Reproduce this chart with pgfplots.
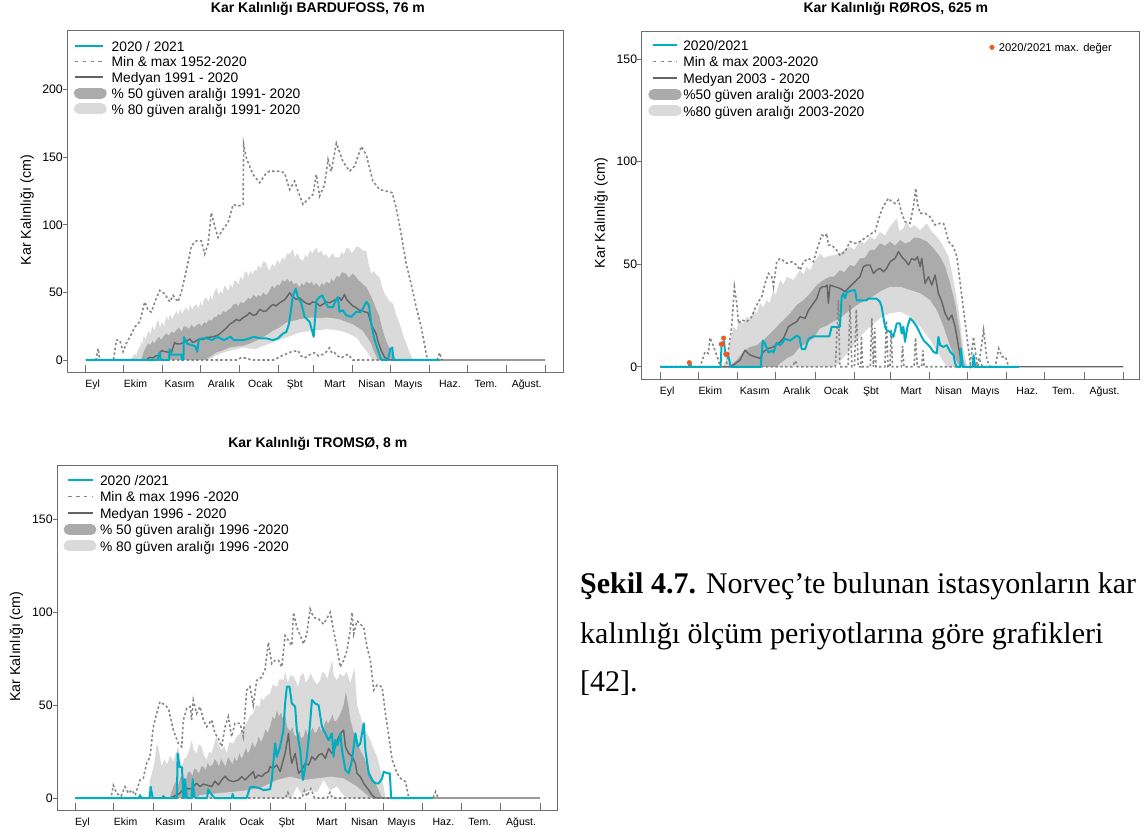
\documentclass[border=0pt]{standalone}
\usepackage{fontspec}
\setmainfont{Liberation Sans}
\newfontfamily\serif{Liberation Serif}
\usepackage{pgfplots}
\pgfplotsset{compat=1.18}
\definecolor{cyanl}{RGB}{0,174,196}
\definecolor{band80}{RGB}{218,218,218}
\definecolor{band50}{RGB}{171,171,171}
\definecolor{medc}{RGB}{100,100,100}
\definecolor{dotc}{RGB}{135,135,135}
\definecolor{framec}{RGB}{110,110,110}
\definecolor{maxc}{RGB}{240,90,30}
\pgfplotsset{
  snow/.style={
    scale only axis,
    axis line style={framec, line width=0.8pt},
    tick style={framec, line width=0.8pt},
    major tick length=4.3pt,
    tick pos=left,
    xtick={5.5,39.5,74.5,107.7,138.7,166,197.7,227.2,256.3,289.2,317.8,350.2},
    xticklabels={Eyl,Ekim,Kasım,Aralık,Ocak,Şbt,Mart,Nisan,Mayıs,Haz.,Tem.,Ağust.},
    xtick style={draw=none},
    extra x ticks={0,30,61,91,122,153,181,212,242,273,303,334,365},
    extra x tick labels={,,,,,,,,,,,,},
    extra x tick style={major tick length=7pt, xtick style={draw=framec}},
    xticklabel style={font=\fontsize{10.5}{10.5}\selectfont, inner sep=0pt, text height=8pt, text depth=2pt, anchor=north, yshift=-7pt},
    ytick style={xshift=-4.3pt},
    yticklabel style={font=\fontsize{12.3}{12.3}\selectfont, inner sep=0pt, xshift=-4.3pt},
    /pgf/number format/assume math mode=true,
    legend cell align=left,
    ylabel={Kar Kalınlığı (cm)},
    title style={anchor=center, font=\bfseries\fontsize{14}{14}\selectfont},
    ylabel style={anchor=center, font=\fontsize{14.3}{14.3}\selectfont},
  },
  b80/.style={fill=band80, draw=none, forget plot},
  b50/.style={fill=band50, draw=none, forget plot},
  bwh/.style={fill=white, draw=none, forget plot},
  dotl/.style={dotc, line width=1.6pt, dash pattern=on 2.4pt off 2.4pt, forget plot},
  medl/.style={medc, line width=1.4pt, line join=round, forget plot},
  cyl/.style={cyanl, line width=2pt, line join=round, forget plot},
}
\begin{document}
\begin{tikzpicture}
\path[use as bounding box] (0pt,0pt) rectangle (1144pt,830pt);

%================ BARDUFOSS
\begin{axis}[snow, at={(67.3pt,457.7pt)}, anchor=south west, width=496.3pt, height=341.6pt,
  xmin=-14.7, xmax=379.5, ymin=-9.1, ymax=243.7, ytick={0,50,100,150,200},
  title={Kar Kalınlığı BARDUFOSS, 76 m},
  title style={at={(axis description cs:0.505,1.046)}},
  ylabel style={at={(axis description cs:-0.0812,0.475)}},
  legend style={at={(axis description cs:0.0135,0.9722)}, anchor=north west, draw=none, fill=none, inner sep=0pt, outer sep=0pt, row sep=4.8pt, column sep=5pt, font=\fontsize{13.8}{14}\selectfont, nodes={inner sep=0pt, text height=11pt, text depth=0pt}}]
\addplot[b80] coordinates {(35,0) (37,2) (38.9,5) (40,3) (41.5,8) (42.9,9.3) (44,14) (45,11) (46,18) (47.5,15) (49.5,21.6) (51,19) (53,25) (54.5,22) (56,26.5) (57.5,30) (59,24) (60.5,28) (62,25) (64,32.6) (65.5,29) (67,34) (68.5,30) (70,33) (72,36.3) (73.5,33) (75,38) (76.5,34) (78,37) (79.9,38.7) (81.5,36) (83,41) (84.5,37) (86,40) (87.8,41.2) (89.5,38) (91,43) (92.5,40) (94,45) (95.8,46.1) (97.5,43) (99,48) (100.5,44) (102,50) (103.7,53.4) (105.5,48) (107,51) (108.5,49) (110,55) (111.6,53.4) (113,51) (115,56) (116.5,53) (118,59) (119.6,58.3) (121,56) (123,62) (124.5,59) (126,64) (127.5,65.7) (129,62) (131,66) (132.5,63) (134,67) (135.4,65.7) (137,70) (139,68) (141,73) (143.4,71.8) (145,67) (146,66.2) (148,71) (150,69) (152,74) (154,71.1) (156,76) (158,74) (160,79) (161.9,78.4) (164.5,82) (166,76) (168,79) (170,75) (172.5,73.5) (174.5,78) (176,76) (178,81) (180,79) (183,83.3) (185,79) (187,81) (189,77) (190.9,78.4) (193,75) (196,79) (198,76) (201.5,76) (203,80) (205,78) (207,83) (209.5,82) (211,79) (213,81) (215,84) (217.5,83.3) (220,81) (222.8,80.8) (224.5,72) (226.7,63.7) (228.5,66) (230,64) (232,62) (233.3,61.3) (235,55) (237.3,49) (239,47) (240,45) (242,43) (243.9,41.7) (246,35) (247.5,31) (249.2,27) (251,22) (252.5,17) (254.5,12.3) (257,6) (259.8,0)} --cycle;
\addplot[b50] coordinates {(44,0) (46,6) (47.5,9) (49.5,12.3) (51,11) (53,14) (54.5,12) (56,14.7) (58,17) (60,15) (62,18) (64,19.6) (66,18) (68,21) (70,20) (72,22) (74,24) (76,21) (78,25) (79.9,24.5) (82,23) (84,26) (86,24) (87.8,25.7) (90,27) (92,25) (94,28) (95.8,26.9) (98,30) (100,29) (102,32) (103.7,31.9) (105.5,34) (107,33) (109,36) (111.6,35.5) (113,37) (115,38) (117,41) (119.6,41.7) (121,40) (123,43) (125,42) (127.5,44.1) (129,46) (131,45) (133,48) (135.4,46.6) (137,48) (139,47) (141,50) (143.4,47.8) (146,51.5) (148,55) (150,53) (152,56) (154,55.1) (156,59) (158,58) (160,60) (161.9,57.6) (163.5,59) (165,56) (167,57) (169.8,53.9) (171.5,57) (173,55) (175,58) (177.8,56.4) (179.5,58) (181,55) (183,57) (185.7,53.9) (187.5,57) (189,55) (191,58) (193.6,56.4) (195,60) (197,58) (199,62) (201.5,61.3) (203.5,65) (206.9,63.7) (208.5,61) (210,62) (212,64) (214.8,61.3) (216.5,59) (218,58) (220,56) (222.8,53.9) (225,50) (228,44.1) (230.5,38) (233.3,31.9) (235,25) (237.3,17.2) (240,11) (242.6,6.9) (246.5,0)} --cycle;
\addplot[b80] coordinates {(95,0) (100,3) (103.7,5.6) (109,7) (114.3,9.3) (120,10) (125,10.5) (130,12) (135.4,14.2) (138,15.5) (143,18) (148.7,21.6) (154,24) (159.3,27.7) (165,29) (169.8,30.1) (175,31) (180.4,31.4) (185,31) (190.9,31.4) (196,31) (201.5,30.1) (206,28.5) (212,26.5) (216,24) (220,21.6) (224,16) (226.7,11.8) (229,6) (232,0)} --cycle;
\addplot[bwh] coordinates {(97,0) (103,3) (108,5) (114.3,6.9) (120,8) (125,9.3) (130,8.5) (135.4,8.1) (138,9.3) (143,11) (148.7,13) (154,15) (159.3,16.7) (165,18.5) (169.8,20.3) (175,21) (180.4,21.6) (185,22) (190.9,22.8) (196,22.5) (201.5,21.6) (206,20.5) (209.5,19.1) (213,17.5) (216.1,15.5) (219,11) (222.8,6.9) (226,2) (228,0)} --cycle;
\addplot[dotl] coordinates {(0,0) (8,0) (9.8,8.6) (11,0) (22,0) (24.3,14.7) (27,14.7) (29.6,6.1) (32,12) (35,17) (38.9,24.4) (42.9,28.4) (46.8,43) (49.5,36.8) (52.1,35.5) (54.8,43) (58.7,51.5) (62.7,49) (66.7,43) (69.3,47.8) (73.3,43) (75.9,50.3) (78.6,61.3) (81.2,72.3) (83.9,84.6) (87.8,88.2) (91.8,88.2) (94.4,78.4) (97.1,85.8) (99.7,109) (102.4,99) (105,90.7) (109,96.8) (113,101.7) (117,115) (120.9,113.9) (124.9,115) (125.4,159.3) (127.5,149.5) (132.8,137.3) (138.1,131.2) (143.4,138.5) (146,139.7) (154,139.7) (157.9,138.5) (161.9,126.2) (165.9,132.4) (168.5,125) (172.5,115.2) (176.4,118.9) (180.4,122.5) (183.1,137.3) (185.7,121.3) (189.7,129.9) (192.4,148.3) (195,139.7) (199,160.5) (204.2,147) (209.5,139.7) (213.5,143.4) (218.8,158) (222.8,151.8) (228,132.4) (233.3,126.2) (238.6,125) (243.4,123.8) (246.5,112.7) (250.5,93.1) (254.5,71) (258.4,56.4) (262.4,39.2) (266.4,24.5) (270.3,4.9) (271.6,0) (279,0) (281,5.4) (283,0)};
\addplot[dotl] coordinates {(0,0) (120,0) (123,1.5) (128,1.5) (131,0) (150,0) (153,2) (158,4) (163,6) (168.5,7) (171,3) (173.8,1.5) (178,4) (181.7,5.4) (185,3) (188.3,4.2) (191,6) (193.6,9) (195.5,5) (197.6,5.4) (200,3) (202.9,1.5) (205.5,3) (208.2,4.2) (212,0) (280,0)};
\addplot[medl] coordinates {(0,0) (48,0) (50.8,2) (53,1.5) (56,3.2) (58,3) (60,6.9) (64,6) (68,5.6) (70.6,13) (72,12) (74.6,11.8) (78,13) (80,14) (82.5,15.5) (85,13) (87.8,14.2) (91,16) (93,15) (95.8,16.7) (100,17) (103.7,17.9) (106,19) (109,21.6) (112,24) (114.3,26.5) (117,28) (119.6,30.1) (122,29) (125,31.4) (128,33) (130.2,35) (133,33) (135.4,33.8) (138.1,37.5) (141,36) (143.4,36.3) (146,39) (148.7,41.2) (151,40) (154,42.4) (157,44) (159.3,46.1) (161.9,49.8) (164,47) (167.2,44.9) (170,46) (172.5,43.6) (175,42) (177.8,41.2) (180,43) (183,42.4) (186,40) (188.3,41.2) (191,43) (193.6,42.4) (197,44) (201.5,46.1) (203,44) (205.5,48.5) (207,45) (209.5,42.4) (212,40) (214.8,38.7) (217,37) (220.1,36.3) (222,35.5) (224.1,35) (226.7,26.5) (228,24) (230.7,19.1) (232,14) (234.7,6.9) (237.3,2) (241.3,0) (365,0)};
\addplot[cyl] coordinates {(0,0) (57,0) (58.7,5.6) (59.5,0) (66,0) (66.7,8) (67.5,4) (76,4) (76.3,0) (77.5,0) (77.9,17) (80.5,12) (84.5,11) (87.2,9.8) (88.5,6) (89.8,14.7) (92.5,16) (96.4,16) (100.4,14.7) (104.4,17.2) (109.6,14.7) (114.9,17.2) (117.6,14.7) (125.5,14.7) (130,16) (133.4,17.2) (138.7,16) (143.4,16) (148.7,14.7) (152.6,16) (156.6,19.6) (159.3,20.8) (161.4,26.9) (163.3,39.2) (164.5,47.8) (166.7,52.7) (168.5,46.6) (171.2,41.7) (173.8,31.9) (177.8,28.2) (181,17.2) (183.1,44.1) (185.7,46.6) (187.8,47.8) (189.7,44.1) (192.4,39.2) (196.3,39.2) (198.5,44) (200.2,46.6) (201.5,35.7) (204.2,36.8) (206.8,33.1) (210.8,31.9) (214.8,35.7) (218.8,35.7) (222.8,43) (224.9,40.5) (226.7,27) (229.4,14.7) (232,7.4) (234.7,0) (240,0) (241.8,8) (243.4,9.3) (244.4,0) (281,0)};
\addlegendimage{legend image code/.code={\draw[cyanl,line width=2pt] (0pt,0pt)--(28.3pt,0pt);}}
\addlegendentry{2020 / 2021}
\addlegendimage{legend image code/.code={\draw[dotc,line width=1.5pt,dash pattern=on 3.3pt off 4.5pt] (0pt,0pt)--(28.3pt,0pt);}}
\addlegendentry{Min \& max 1952-2020}
\addlegendimage{legend image code/.code={\draw[medc,line width=1.6pt] (0pt,0pt)--(28.3pt,0pt);}}
\addlegendentry{Medyan 1991 - 2020}
\addlegendimage{legend image code/.code={\draw[band50,line width=11pt,line cap=round] (4.5pt,0pt)--(26.2pt,0pt);}}
\addlegendentry{\% 50 güven aralığı 1991- 2020}
\addlegendimage{legend image code/.code={\draw[band80,line width=11pt,line cap=round] (4.5pt,0pt)--(26.2pt,0pt);}}
\addlegendentry{\% 80 güven aralığı 1991- 2020}
\end{axis}

%================ ROROS
\begin{axis}[snow, at={(641.6pt,450.7pt)}, anchor=south west, width=497.4pt, height=347.6pt,
  xmin=-14.7, xmax=377.3, ymin=-6.1, ymax=163.3, ytick={0,50,100,150},
  title={Kar Kalınlığı RØROS, 625 m},
  title style={at={(axis description cs:0.511,1.048)}},
  ylabel style={at={(axis description cs:-0.0816,0.478)}},
  legend style={at={(axis description cs:0.0135,0.9776)}, anchor=north west, draw=none, fill=none, inner sep=0pt, outer sep=0pt, row sep=5.5pt, column sep=1.6pt, font=\fontsize{13.8}{14}\selectfont, nodes={inner sep=0pt, text height=11pt, text depth=0pt}}]
\addplot[b80] coordinates {(49,0) (52.4,4.1) (55,12) (57.6,19.5) (60,18) (62.9,22.8) (65,21) (68.2,24.4) (71,23) (73.4,27.6) (76,26) (78.7,30.9) (81,29) (84,32.5) (86,31) (89.2,37.4) (91,35) (94.5,42.3) (97,40) (99.7,43.9) (105,42.3) (110.2,47.1) (113,45) (115.5,48.8) (118,47) (120.7,50.4) (126,55.3) (129,53) (132.5,54) (138,54.5) (141.6,55.3) (145,57) (149.5,58.5) (153,57) (157.4,61.8) (161,60) (165.3,63.4) (169,62) (173.2,65.8) (177,64) (181.1,68.3) (186.4,72.4) (188.5,66) (191.6,67.5) (194,71) (196.9,67.5) (200,69) (204.8,66.6) (207,68) (210,69.9) (214,65.8) (217.9,63.4) (221.9,60.1) (227.2,53.6) (231.1,42.3) (235.1,27.6) (239,8.1) (241.7,0)} --cycle;
\addplot[b50] coordinates {(53,0) (57,1.5) (60.3,3.3) (65.5,7.3) (70.8,9.7) (76,10.5) (81.3,13) (86.5,16.2) (91.8,19.5) (97.1,22.8) (102.3,26) (107.6,30.1) (112.9,32.5) (118.1,35.8) (123.4,39.8) (128.7,42.3) (133.8,43.9) (137,44) (141.6,47.1) (145,46) (149.5,49.6) (153,49) (157.4,52.8) (161,53) (165.3,56.9) (169,57) (173.2,60.1) (177,59) (181.1,61) (185,59) (189,61.8) (193,60) (196.9,61) (200,63) (204.8,62.6) (210,61) (215.3,57.7) (220.6,53.6) (224.5,48.8) (228.5,40.7) (232.4,30.9) (235.9,17.9) (238.5,4.9) (240.4,0)} --cycle;
\addplot[b80] coordinates {(92,0) (94.5,1.6) (99.7,4.1) (105,5.7) (110.2,9.7) (115.5,11.4) (120.7,13.8) (126,18.7) (132.5,20.3) (133.8,21.1) (141.6,23.6) (149.5,27.6) (157.4,30.9) (165.3,33.3) (173.2,36.6) (181.1,39) (189,39) (196.9,37.4) (204.8,35.8) (212.6,32.5) (217.9,27.6) (223.2,19.5) (228.5,9.7) (233.8,2.4) (236,0)} --cycle;
\addplot[bwh] coordinates {(138,0) (141.6,2.4) (149.5,8.1) (157.4,14.6) (165.3,19.5) (173.2,23.6) (181.1,26) (189,26.8) (196.9,24.4) (204.8,19.5) (212.6,13) (220.6,4.9) (225.8,0)} --cycle;
\addplot[dotl] coordinates {(0,0) (31.4,0) (32.7,2.4) (35.3,7.3) (37.9,6.5) (39.2,14.2) (41.9,10.1) (45.8,3.3) (47,0) (52,0) (53.7,8.1) (56.3,19.5) (58.4,39) (60.3,30.9) (61.6,21.1) (64.2,22.8) (68.2,22) (72.1,24.4) (74.7,28.4) (77.4,31.7) (80,34.2) (82.6,40.7) (85.3,45.5) (87.9,43.9) (89.2,39) (91.8,51.2) (94.5,52.8) (99.7,50.4) (103.7,51.2) (107.6,49.6) (110.2,47.1) (112.9,51.2) (116.8,52.8) (120.7,51.2) (123.4,56.9) (127.3,64.2) (130,63.4) (131.2,65) (132.5,59.3) (135.1,59.3) (139,56.9) (141.6,54.4) (145.6,56.1) (149.5,61) (153.5,60.1) (157.4,61) (162.7,63.4) (166.6,65) (169.3,65.8) (171.9,71.5) (174.5,76.4) (177.2,79.6) (179.8,82.1) (182.4,80.5) (185.1,79.6) (187.7,81.3) (190.3,74.8) (192.9,70.7) (196.9,69.9) (199.5,78) (201.4,87) (202.7,79.6) (204.8,74.8) (208.7,74.8) (212.6,73.1) (216.6,69.1) (220.6,69.9) (223.2,69.9) (224.5,67.5) (227.2,61) (231.1,58.5) (233.8,53.6) (236.4,40.7) (239,27.6) (241.7,14.6) (244.3,1.6) (246.9,14.6) (249.6,1.6) (252,5) (254.8,17.9) (257.5,3.3) (260.1,0) (264,0) (266.7,8.9) (269.3,4.9) (272,4.9) (274.6,0)};
\addplot[dotl] coordinates {(0,0) (104,0) (106.6,2.9) (108,0) (138,0) (139.5,20) (140.4,32.5) (141.5,0) (148,0) (149.6,30.1) (151,0) (153,0) (154.5,28) (156,0) (158,0) (158.5,15) (159.5,0) (165.5,0) (166.7,23.7) (168,0) (169,19) (170,0) (177,0) (178.2,22.5) (179.5,0) (181,0) (182,18) (183,0) (190,0) (191,10) (192,0) (200,0) (201.2,14.2) (202.5,0) (206,0) (207,8) (208,0) (250,0) (252,3) (254,0) (270,0)};
\addplot[medl] coordinates {(0,0) (55,0) (57.5,0.8) (60,2) (62.9,3.3) (66.8,8.1) (70.8,5.7) (74.7,4.9) (78.6,4.1) (81.3,7.3) (85.2,8.9) (89.2,9.7) (93.1,11.4) (97.1,13.8) (101,19.5) (104.9,21.1) (107.6,22) (110.2,24.4) (114.2,23.6) (116.8,27.6) (120.7,30.9) (123.4,33.3) (126,38.2) (128,39) (130,39) (131.5,39.8) (132.5,30.9) (133.8,39.8) (137.7,39) (141.6,38.2) (145.6,36.6) (149.5,39) (153.5,41.5) (157.4,43.9) (160.1,48.8) (162.7,49.6) (165.3,49.6) (168,45.5) (170.6,47.1) (173.2,48) (175.8,46.3) (178.5,48) (181.1,51.2) (185.1,52.8) (187.7,56.1) (190.3,53.6) (192.9,52) (195.6,49.6) (198.2,52.8) (200.8,52) (202.7,53.6) (204.8,48.8) (206.1,52.8) (208.7,40.6) (211.4,43.9) (214,39.8) (216.6,44.7) (219.2,35.8) (221.9,31.7) (224.5,26) (227.2,22.8) (229.8,25.2) (232.4,19.5) (235.1,9.7) (237.7,0.8) (239,0) (365,0)};
\addplot[cyl] coordinates {(0,0) (22.5,0) (23.5,2) (24.5,0) (47.5,0) (48.4,11.4) (50.3,12.5) (51.3,5.2) (53.7,5.2) (55.5,0) (79.2,0) (80.8,12.8) (82.6,11.1) (85.3,7) (87.9,7.8) (89.2,7) (91.8,11.6) (94.5,10.4) (98.4,13.6) (102.4,12.8) (107.6,15.2) (109.7,14.4) (111.5,8.6) (114.2,8.6) (116.8,13.6) (120.7,14.8) (126,14.8) (133.3,14.8) (135.1,19.5) (141.6,19.5) (143,34.2) (144.3,35.8) (145.6,33.4) (147,36.4) (152.2,37.3) (153.5,37.3) (154.8,32.4) (162.7,32.4) (164,33.2) (170.6,33.2) (173.2,31.6) (174.5,29.2) (175.8,24.3) (177.2,19.4) (178.5,17.8) (181.1,17) (183.7,14.6) (186.4,21.1) (189,21.1) (190.3,16.2) (191.6,19.5) (192.9,12.2) (194.8,19.5) (196.9,23.6) (199.5,22) (202.2,19.5) (204.8,16.2) (207.4,13) (210,11.4) (212.6,9.7) (215.3,7.3) (217.9,6.5) (219.2,14.6) (220.6,10.5) (223.2,9.7) (225.8,10.5) (228.5,7.3) (231.1,5.7) (232.4,1.6) (233.8,0) (236.5,0) (237.1,8.9) (238.2,0) (246,0) (246.9,5.7) (248.2,0) (282.7,0)};
\addlegendimage{legend image code/.code={\draw[cyanl,line width=2pt] (0pt,0pt)--(24.6pt,0pt);}}
\addlegendentry{2020/2021}
\addlegendimage{legend image code/.code={\draw[dotc,line width=1.5pt,dash pattern=on 3.3pt off 4.5pt] (0pt,0pt)--(24.6pt,0pt);}}
\addlegendentry{Min \& max 2003-2020}
\addlegendimage{legend image code/.code={\draw[medc,line width=1.6pt] (0pt,0pt)--(24.6pt,0pt);}}
\addlegendentry{Medyan 2003 - 2020}
\addlegendimage{legend image code/.code={\draw[band50,line width=11pt,line cap=round] (1.1pt,0pt)--(23.5pt,0pt);}}
\addlegendentry{\%50 güven aralığı 2003-2020}
\addlegendimage{legend image code/.code={\draw[band80,line width=11pt,line cap=round] (1.1pt,0pt)--(23.5pt,0pt);}}
\addlegendentry{\%80 güven aralığı 2003-2020}
\end{axis}

\begin{axis}[scale only axis, hide axis, at={(641.6pt,450.7pt)}, anchor=south west, width=497.4pt, height=347.6pt,
  xmin=-14.7, xmax=377.3, ymin=-6.1, ymax=163.3, legend cell align=left,
  legend style={at={(axis description cs:0.6994,0.9666)}, anchor=north west, draw=none, fill=none, inner sep=0pt, outer sep=0pt, column sep=4.3pt, font=\fontsize{11.2}{11.2}\selectfont, nodes={inner sep=0pt, text height=8pt, text depth=0pt}}]
\addplot[only marks, mark=*, mark size=2.3pt, color=maxc, legend image code/.code={\fill[maxc] (0pt,0pt) circle (2.3pt);}] coordinates {(22.9,2) (48,11) (49,11.1) (49.9,14) (51.6,6.2) (52.7,6.2)};
\addlegendentry{2020/2021 max. değer}
\end{axis}

%================ TROMSO
\begin{axis}[snow, at={(57.1pt,19.7pt)}, anchor=south west, width=500.4pt, height=345.3pt,
  xmin=-14.3, xmax=378.8, ymin=-6.6, ymax=179.2, ytick={0,50,100,150},
  title={Kar Kalınlığı TROMSØ, 8 m},
  title style={at={(axis description cs:0.521,1.043)}},
  ylabel style={at={(axis description cs:-0.0813,0.474)}},
  legend style={at={(axis description cs:0.013,0.9725)}, anchor=north west, draw=none, fill=none, inner sep=0pt, outer sep=0pt, row sep=5.5pt, column sep=3.6pt, font=\fontsize{13.8}{14}\selectfont, nodes={inner sep=0pt, text height=11pt, text depth=0pt}}]
\addplot[b80] coordinates {(57,0) (58.7,9.7) (60.5,14) (62.6,20.5) (63.7,28.5) (65.2,27.6) (67.8,16.9) (70,21) (72,18) (74.5,23) (77,19.6) (79,24) (80.9,27.6) (83.6,16.9) (85.5,21) (87.6,22.2) (89.5,26) (91.4,31.2) (93,26) (95.3,24) (97,29) (99.3,27.6) (101,23) (103.2,20.5) (105,25) (107.1,24) (109,29) (111,33) (113,28) (115,25.8) (117,28) (118.9,24) (121,30) (124.1,29.4) (126.5,33) (129.4,34.8) (132,38) (134.6,40.2) (137,44) (139.8,45.5) (142,50) (144.6,49.1) (146,54) (147.7,52.7) (150,55) (153,56.3) (155,61) (158.3,59.9) (160.5,64) (163.5,63.5) (165,68) (167,62) (169,66) (171.4,65.3) (173,63) (175,60) (177,66) (179.3,67.1) (181,62) (183,64) (185,67) (187.2,63.5) (190,61) (192.4,63.5) (194,68) (196,67) (198,64) (200.3,70.5) (202,74) (203,66) (205.5,63.5) (208,67) (210.8,65.3) (213,68) (216.1,62) (219.3,70) (221.3,50) (224,44) (226.6,38.3) (229,35) (231.8,31.2) (234,27) (237.1,22.2) (241,11.5) (243.6,0)} --cycle;
\addplot[b50] coordinates {(74,0) (77,6.1) (79,9) (81,7) (83,12) (84.9,11.5) (87,10) (88.5,14) (90.2,14.2) (92,12) (93.5,16) (95.3,15.1) (97,13) (99,17) (100.6,16.9) (102.5,15) (104,19) (105.8,16.9) (108,18) (109.5,21) (111,19.6) (113,17) (114.5,21) (116.3,18.7) (118,17) (120,22) (121.5,20.5) (123.5,18) (125,22) (126.8,19.6) (129,24) (130.5,21) (132,23.1) (134,27) (135.5,24) (137.2,25.8) (139,30) (141,27) (142.5,29.4) (144,33) (146,30) (147.7,33) (149.5,37) (151,35) (153,38.3) (155,44) (156.5,42) (158.3,47) (160,44) (161.5,46) (163.5,42) (165,44) (166.5,38) (168.8,36) (170.5,38) (172,34) (174,33) (176,36) (177.5,32) (179.3,33) (181,37) (182.5,34) (184.5,34.8) (186.5,38) (188,35) (189.8,35.7) (191.5,39) (193,36) (195,38.3) (197,42) (198.5,40) (200.3,41.9) (202,45) (203.5,41) (205.5,41.9) (208,45) (210.8,50) (212.5,57) (214.5,50) (216.1,42) (218,37) (221.3,29.4) (223,27) (226.6,22.2) (229,18) (231.8,13.3) (234,10) (237.1,6.1) (241,0)} --cycle;
\addplot[b80] coordinates {(95,0) (98,1.6) (111,2.5) (124.1,3.4) (137.2,4.3) (147.7,6.1) (158.3,9.7) (168.8,11.5) (179.3,9.7) (189.8,10.6) (200.3,11.5) (210.8,10.6) (221.3,6.1) (229.2,1.6) (232,0)} --cycle;
\addplot[bwh] coordinates {(170,0) (174,6.1) (178,2) (184.5,4.3) (190,3) (195,9.7) (200,4) (205.5,6.1) (210,2) (213,0)} --cycle;
\addplot[dotl] coordinates {(0,0) (28,0) (29.9,6.8) (32.5,2.5) (36,1) (39,6.1) (41.7,2.5) (44.3,4.3) (47,1.5) (50.8,9.7) (53.4,10.6) (56,18.6) (58.7,22.2) (61.3,38.3) (63.9,45.5) (66.5,51.8) (70.5,50) (73.1,48.3) (77,36.6) (80.9,29.4) (83.6,27.6) (84.9,42) (87.6,48.3) (90.2,49.2) (91.4,42) (92.7,52.7) (95.3,45.5) (98,49.2) (100.6,42) (103.2,38.3) (107.1,42) (109.7,34.8) (112.4,32.1) (115,27.6) (117.6,38.3) (120.2,43.8) (122.8,33) (125.4,40.2) (129.4,40.2) (132,33) (134.6,58.1) (137.2,59.9) (139.8,50) (142.5,63.3) (146.4,65) (149.1,69.5) (151.7,83.8) (154.3,72.3) (157,74.1) (159.6,74.1) (162.2,70.5) (164.8,87.4) (167.5,84.7) (170.1,82) (171.4,99.9) (174,91.8) (176.7,87.4) (179.3,82.9) (181.9,88.3) (184.5,101.7) (187.2,97.2) (191.1,96.3) (195,93.6) (200.3,99.9) (202.9,90) (205.5,81.1) (208.2,70.5) (210.8,74.1) (213.4,79.4) (216.1,91) (217.4,99.9) (218.7,88.3) (221.3,95.4) (223.9,93.6) (226.6,91.8) (229.2,81.1) (231.8,74.1) (234.4,58.1) (237.1,60.8) (241,59.9) (243.6,45.5) (246.3,33) (248.9,20.5) (252.8,13.3) (255.5,10.6) (259.4,8.8) (262,0) (281,0) (283,3.4) (285,0)};
\addplot[dotl] coordinates {(0,0) (165,0) (167,3) (169,0) (178,0) (180,4) (182,1) (185,5) (188,0) (198,0) (200,3) (202,0) (280,0)};
\addplot[medl] coordinates {(0,0) (74,0) (77,0.7) (82.2,2.5) (86.2,6.1) (88.8,4.8) (91.4,5.2) (95.3,7.9) (98,6.1) (100.6,7.5) (103.2,7) (107.1,6.1) (109.7,9.1) (112.4,7) (115,9.7) (117.6,11.8) (120.2,9.7) (124.1,8.8) (128.1,9.7) (130.7,11.5) (133.3,9.7) (135.9,11.5) (139.8,14.2) (141.2,10.6) (143.8,12.4) (146.4,11.5) (149.1,13.3) (151.7,14.2) (153,16.9) (155.6,16) (158.3,17.8) (160.9,14.2) (164.8,24) (167.5,34.8) (168.8,24) (170.1,18.7) (172.7,24) (175.4,13.3) (178,15.1) (180.6,18.7) (183.2,17.8) (185.9,22.2) (188.5,20.5) (191.1,23.1) (193.8,24) (196.4,21.3) (199,26.7) (201.6,24) (204.3,27.6) (206.9,33) (209.5,35.6) (210.8,36.6) (212.2,27.6) (214.8,24) (217.4,22.2) (220,18.7) (221.3,13.3) (223.9,11.5) (226.6,7.9) (230.5,4.3) (233.1,1.6) (235.8,0) (365,0)};
\addplot[cyl] coordinates {(0,0) (50,0) (50.8,1.6) (52,0) (58.5,0) (59.2,6.1) (60.8,0) (68,0) (69.2,1) (70.5,0) (79.8,0) (80.4,24) (81.7,16.9) (83.8,16.5) (84.9,0) (85.6,0) (86.2,10) (87.6,0) (91.5,0) (92.2,10.2) (93.5,0.7) (94.5,0) (103.5,0) (104.5,4.7) (106.3,2.5) (109.4,0) (123,0) (123.6,2.2) (124.5,0) (134.6,0) (137.2,5.7) (139.8,6.1) (145.1,5.2) (147.7,4.3) (153,4.7) (154.3,9.7) (157,29.4) (158.3,22.2) (160.9,27.6) (163.5,36.6) (164.8,50.9) (166.2,59.9) (168.3,59.9) (170.1,50.9) (172.7,49.2) (174,36.6) (176.7,25.8) (178.8,9.7) (179.8,13.3) (181.9,22.2) (184,36.6) (185.9,52.7) (188.5,50.9) (191.1,50) (193.8,38.3) (196.4,34.8) (199,31.2) (201.6,34.8) (202.9,22.2) (204.3,31.2) (206.1,28.5) (208.2,34.8) (209.5,25.8) (212.2,15.1) (214.8,13.3) (217.4,20.5) (220,34.8) (221.9,27.6) (223.9,29.4) (226.6,40.2) (227.9,25.8) (230.5,13.3) (233.1,9.7) (235.8,7.9) (238.4,7.9) (241,10.6) (242.3,14.2) (245,13.3) (247.1,13.3) (248.1,0) (280.7,0)};
\addlegendimage{legend image code/.code={\draw[cyanl,line width=2pt] (0pt,0pt)--(24.3pt,0pt);}}
\addlegendentry{2020 /2021}
\addlegendimage{legend image code/.code={\draw[dotc,line width=1.5pt,dash pattern=on 3.3pt off 4.5pt] (0pt,0pt)--(24.3pt,0pt);}}
\addlegendentry{Min \& max 1996 -2020}
\addlegendimage{legend image code/.code={\draw[medc,line width=1.6pt] (0pt,0pt)--(24.3pt,0pt);}}
\addlegendentry{Medyan 1996 - 2020}
\addlegendimage{legend image code/.code={\draw[band50,line width=11pt,line cap=round] (0.7pt,0pt)--(22.5pt,0pt);}}
\addlegendentry{\% 50 güven aralığı 1996 -2020}
\addlegendimage{legend image code/.code={\draw[band80,line width=11pt,line cap=round] (0.7pt,0pt)--(22.5pt,0pt);}}
\addlegendentry{\% 80 güven aralığı 1996 -2020}
\end{axis}

%================ CAPTION
\node[anchor=base west, inner sep=0pt, font=\serif\fontsize{30}{30}\selectfont] at (580pt,236.7pt) {\textbf{Şekil 4.7.} Norveç’te bulunan istasyonların kar};
\node[anchor=base west, inner sep=0pt, font=\serif\fontsize{30}{30}\selectfont] at (580pt,186.7pt) {kalınlığı ölçüm periyotlarına göre grafikleri};
\node[anchor=base west, inner sep=0pt, font=\serif\fontsize{30}{30}\selectfont] at (580pt,138.3pt) {[42].};
\end{tikzpicture}
\end{document}
